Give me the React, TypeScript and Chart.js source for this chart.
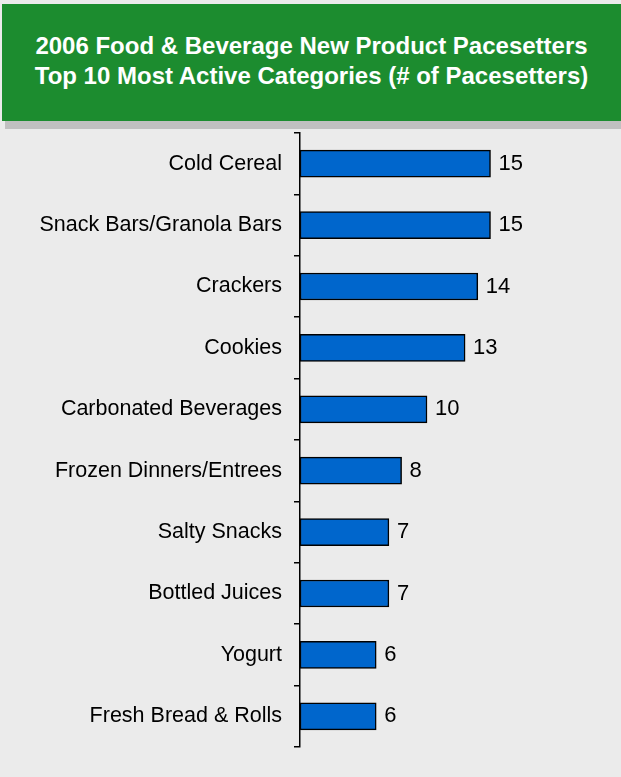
import React, { useEffect, useRef } from "react";
import { Chart, registerables } from "chart.js";

Chart.register(...registerables);

const categories = [
  "Cold Cereal",
  "Snack Bars/Granola Bars",
  "Crackers",
  "Cookies",
  "Carbonated Beverages",
  "Frozen Dinners/Entrees",
  "Salty Snacks",
  "Bottled Juices",
  "Yogurt",
  "Fresh Bread & Rolls",
];
const pacesetters = [15, 15, 14, 13, 10, 8, 7, 7, 6, 6];
const titleLines = [
  "2006 Food & Beverage New Product Pacesetters",
  "Top 10 Most Active Categories (# of Pacesetters)",
];

const FONT = "Arial, 'Liberation Sans', sans-serif";

const valueLabels = {
  id: "valueLabels",
  afterDatasetsDraw(chart: any) {
    const ctx = chart.ctx;
    const meta = chart.getDatasetMeta(0);
    ctx.save();
    ctx.font = `22px ${FONT}`;
    ctx.fillStyle = "#000";
    ctx.textAlign = "left";
    ctx.textBaseline = "middle";
    meta.data.forEach((bar: any, i: number) => {
      ctx.fillText(String(pacesetters[i]), bar.x + 8, bar.y);
    });
    ctx.restore();
  },
};

export default function App() {
  const ref = useRef<HTMLCanvasElement>(null);
  useEffect(() => {
    document.body.style.margin = "0";
    const chart = new Chart(ref.current!, {
      type: "bar",
      data: {
        labels: categories,
        datasets: [
          {
            data: pacesetters,
            backgroundColor: "#0066CC",
            borderColor: "#000",
            borderWidth: 1.5,
            borderSkipped: false,
            barThickness: 27,
          },
        ],
      },
      plugins: [valueLabels],
      options: {
        indexAxis: "y",
        animation: false,
        responsive: false,
        maintainAspectRatio: false,
        layout: { padding: { top: 3, bottom: 30, left: 0, right: 20 } },
        plugins: { legend: { display: false }, tooltip: { enabled: false } },
        scales: {
          x: { display: false, min: 0, max: 23.7 },
          y: {
            afterFit(scale: any) {
              scale.width = 300;
              scale.paddingTop = 0;
              scale.paddingBottom = 0;
            },
            border: { display: true, color: "#000", width: 1.5 },
            grid: {
              offset: true,
              drawOnChartArea: false,
              drawTicks: true,
              tickLength: 6,
              color: "#000",
              lineWidth: 1.5,
            },
            ticks: {
              color: "#000",
              padding: 12,
              font: { size: 21.5, family: FONT },
            },
          },
        },
      },
    });
    return () => chart.destroy();
  }, []);

  return (
    <div style={{ position: "relative", width: 621, height: 777, background: "#EBEBEB", overflow: "hidden", fontFamily: FONT }}>
      <div style={{ position: "absolute", left: 5, top: 121, width: 616, height: 8, background: "#C0C0C0" }} />
      <div
        style={{
          position: "absolute",
          left: 2,
          top: 4,
          width: 619,
          height: 114,
          background: "#1C8C2F",
          color: "#fff",
          fontWeight: "bold",
          fontSize: 24,
          lineHeight: "30px",
          textAlign: "center",
          display: "flex",
          flexDirection: "column",
          justifyContent: "center",
          boxSizing: "border-box",
        }}
      >
        {titleLines.map((t) => (
          <div key={t}>{t}</div>
        ))}
      </div>
      <div style={{ position: "absolute", left: 2, top: 118, width: 619, height: 3, background: "#1C8C2F" }} />
      <canvas ref={ref} width={621} height={647} style={{ position: "absolute", left: 0, top: 130 }} />
    </div>
  );
}
